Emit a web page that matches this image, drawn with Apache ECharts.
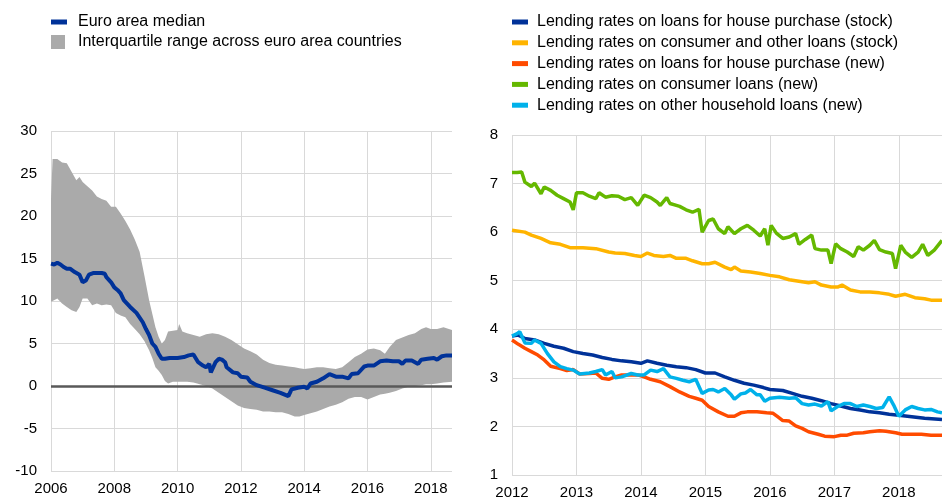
<!DOCTYPE html>
<html>
<head>
<meta charset="utf-8">
<script src="https://cdn.jsdelivr.net/npm/echarts@6/dist/echarts.min.js"></script>
<style>
html,body{margin:0;padding:0;background:#fff;}
#chart{width:942px;height:500px;}
</style>
</head>
<body>
<div id="chart"></div>
<script>
// ---------- Left panel data ----------
const leftTicks = [2006, 2008, 2010, 2012, 2014, 2016, 2018];
const medianName = 'Euro area median';
const bandName = 'Interquartile range across euro area countries';
const median = [[2006.0,14.4],[2006.1,14.3],[2006.2,14.5],[2006.3,14.3],[2006.4,14.0],[2006.5,13.8],[2006.6,13.8],[2006.75,13.4],[2006.9,13.1],[2007.0,12.2],[2007.1,12.4],[2007.2,13.1],[2007.35,13.3],[2007.5,13.3],[2007.6,13.3],[2007.7,13.2],[2007.75,12.8],[2007.9,12.2],[2008.0,11.6],[2008.1,11.3],[2008.2,10.9],[2008.3,10.1],[2008.5,9.3],[2008.7,8.6],[2008.9,7.5],[2009.0,6.7],[2009.1,6.0],[2009.2,5.0],[2009.3,4.6],[2009.4,3.8],[2009.5,3.2],[2009.6,3.2],[2009.75,3.3],[2010.0,3.3],[2010.2,3.4],[2010.35,3.6],[2010.5,3.7],[2010.55,3.5],[2010.65,2.8],[2010.8,2.4],[2010.9,2.2],[2011.0,2.6],[2011.05,1.6],[2011.1,2.0],[2011.2,2.8],[2011.3,3.2],[2011.4,3.1],[2011.5,2.8],[2011.55,2.2],[2011.6,2.0],[2011.75,1.6],[2011.9,1.5],[2012.0,1.1],[2012.2,1.0],[2012.3,0.5],[2012.5,0.1],[2012.75,-0.2],[2013.0,-0.5],[2013.25,-0.8],[2013.5,-1.2],[2013.6,-0.4],[2013.8,-0.2],[2014.0,-0.1],[2014.1,-0.3],[2014.2,0.3],[2014.4,0.5],[2014.6,0.9],[2014.8,1.4],[2015.0,1.1],[2015.2,1.1],[2015.4,0.9],[2015.5,1.4],[2015.7,1.5],[2015.9,2.3],[2016.0,2.4],[2016.2,2.4],[2016.4,2.9],[2016.6,3.0],[2016.8,2.9],[2017.0,2.9],[2017.1,2.6],[2017.2,3.0],[2017.4,3.0],[2017.6,2.6],[2017.7,3.1],[2017.9,3.2],[2018.1,3.3],[2018.2,3.1],[2018.35,3.5],[2018.5,3.6],[2018.67,3.6]];
const bandYears = [2006.0,2006.05,2006.2,2006.35,2006.5,2006.65,2006.8,2006.9,2007.0,2007.15,2007.3,2007.45,2007.6,2007.75,2007.9,2008.05,2008.2,2008.35,2008.5,2008.65,2008.8,2008.95,2009.1,2009.2,2009.3,2009.4,2009.5,2009.6,2009.7,2009.85,2010.0,2010.05,2010.15,2010.3,2010.5,2010.7,2010.9,2011.1,2011.3,2011.5,2011.7,2011.9,2012.1,2012.3,2012.5,2012.7,2012.9,2013.1,2013.3,2013.5,2013.7,2013.85,2014.0,2014.2,2014.4,2014.6,2014.8,2015.0,2015.2,2015.4,2015.6,2015.8,2016.0,2016.2,2016.4,2016.55,2016.7,2016.9,2017.1,2017.3,2017.5,2017.7,2017.85,2018.0,2018.2,2018.4,2018.67];
const bandUpper = [22,26.7,26.7,26.3,26.2,25.2,24.2,24.6,24.0,23.5,23.0,22.3,22.0,21.8,21.1,21.1,20.3,19.4,18.4,17.2,15.8,13.0,10.1,8.5,6.9,5.8,5.0,5.4,6.4,6.5,6.6,7.3,6.4,6.2,6.0,5.8,6.1,6.2,6.1,5.8,5.4,4.9,4.4,4.1,3.7,3.1,2.7,2.5,2.4,2.3,2.2,2.1,2.0,2.1,2.2,2.2,2.1,2.0,2.2,2.8,3.4,3.8,4.3,4.4,4.2,3.8,4.6,5.4,5.7,6.0,6.2,6.7,6.9,6.7,6.7,6.9,6.6];
const bandLower = [9.9,10.0,10.3,9.7,9.3,8.9,8.7,9.3,10.3,10.3,9.5,9.7,9.5,9.6,9.5,8.6,8.3,8.1,7.3,6.7,6.1,5.3,4.2,3.3,2.2,1.8,1.3,0.6,0.3,0.5,0.5,0.5,0.5,0.5,0.4,0.2,0.0,-0.3,-0.8,-1.3,-1.8,-2.3,-2.6,-2.7,-2.8,-3.0,-3.0,-3.1,-3.1,-3.3,-3.6,-3.6,-3.4,-3.2,-3.0,-2.7,-2.4,-2.2,-1.9,-1.5,-1.3,-1.3,-1.6,-1.3,-1.0,-0.9,-0.8,-0.6,-0.3,-0.1,0.0,0.1,0.2,0.2,0.3,0.4,0.5];

// ---------- Right panel data ----------
const rightTicks = [2012, 2013, 2014, 2015, 2016, 2017, 2018];
const rightNames = [
  'Lending rates on loans for house purchase (stock)',
  'Lending rates on consumer and other loans (stock)',
  'Lending rates on loans for house purchase (new)',
  'Lending rates on consumer loans (new)',
  'Lending rates on other household loans (new)'
];
const houseStock = [[2012.0,3.86],[2012.1,3.88],[2012.2,3.81],[2012.35,3.78],[2012.5,3.71],[2012.65,3.65],[2012.8,3.61],[2012.95,3.54],[2013.1,3.50],[2013.25,3.47],[2013.4,3.42],[2013.55,3.38],[2013.7,3.35],[2013.85,3.33],[2014.0,3.30],[2014.1,3.35],[2014.25,3.30],[2014.4,3.26],[2014.55,3.23],[2014.7,3.21],[2014.85,3.17],[2015.0,3.10],[2015.15,3.10],[2015.3,3.02],[2015.45,2.95],[2015.6,2.89],[2015.75,2.85],[2015.9,2.80],[2016.0,2.76],[2016.2,2.74],[2016.35,2.68],[2016.5,2.62],[2016.65,2.58],[2016.8,2.53],[2016.95,2.47],[2017.1,2.42],[2017.25,2.37],[2017.4,2.34],[2017.55,2.30],[2017.7,2.28],[2017.85,2.25],[2018.0,2.23],[2018.2,2.20],[2018.4,2.17],[2018.67,2.14]];
const consumerStock = [[2012.0,6.04],[2012.2,6.00],[2012.3,5.94],[2012.45,5.87],[2012.6,5.78],[2012.75,5.75],[2012.9,5.68],[2013.1,5.68],[2013.3,5.66],[2013.5,5.59],[2013.6,5.57],[2013.75,5.56],[2013.9,5.52],[2014.0,5.50],[2014.1,5.57],[2014.2,5.52],[2014.35,5.50],[2014.45,5.52],[2014.55,5.46],[2014.7,5.46],[2014.8,5.41],[2014.95,5.35],[2015.05,5.35],[2015.15,5.38],[2015.3,5.28],[2015.4,5.23],[2015.45,5.28],[2015.55,5.20],[2015.7,5.18],[2015.85,5.15],[2016.0,5.11],[2016.15,5.08],[2016.3,5.02],[2016.45,4.99],[2016.6,4.96],[2016.7,4.98],[2016.8,4.91],[2016.95,4.87],[2017.05,4.87],[2017.12,4.91],[2017.25,4.81],[2017.4,4.77],[2017.55,4.77],[2017.7,4.75],[2017.85,4.72],[2017.95,4.68],[2018.1,4.72],[2018.25,4.65],[2018.4,4.63],[2018.5,4.60],[2018.67,4.60]];
const houseNew = [[2012.0,3.78],[2012.1,3.69],[2012.2,3.61],[2012.3,3.54],[2012.4,3.47],[2012.5,3.37],[2012.6,3.24],[2012.75,3.19],[2012.85,3.15],[2012.95,3.17],[2013.05,3.08],[2013.2,3.09],[2013.3,3.10],[2013.4,2.99],[2013.5,2.97],[2013.6,3.02],[2013.7,3.06],[2013.8,3.06],[2013.95,3.06],[2014.05,3.02],[2014.15,2.97],[2014.3,2.92],[2014.45,2.82],[2014.6,2.71],[2014.75,2.62],[2014.85,2.58],[2014.95,2.54],[2015.05,2.41],[2015.2,2.30],[2015.35,2.21],[2015.45,2.21],[2015.55,2.28],[2015.65,2.30],[2015.8,2.30],[2015.95,2.28],[2016.05,2.27],[2016.12,2.20],[2016.2,2.12],[2016.3,2.11],[2016.4,2.01],[2016.5,1.96],[2016.6,1.89],[2016.75,1.84],[2016.85,1.80],[2017.0,1.79],[2017.1,1.82],[2017.2,1.82],[2017.3,1.86],[2017.45,1.87],[2017.55,1.89],[2017.7,1.91],[2017.8,1.90],[2017.95,1.87],[2018.05,1.84],[2018.2,1.84],[2018.35,1.84],[2018.5,1.82],[2018.67,1.82]];
const consumerNew = [[2012.0,7.23],[2012.08,7.23],[2012.15,7.24],[2012.2,7.03],[2012.3,6.94],[2012.35,7.01],[2012.45,6.79],[2012.5,6.93],[2012.6,6.86],[2012.7,6.76],[2012.8,6.69],[2012.9,6.62],[2012.95,6.46],[2013.0,6.81],[2013.1,6.81],[2013.2,6.74],[2013.3,6.69],[2013.35,6.81],[2013.45,6.72],[2013.55,6.75],[2013.65,6.74],[2013.75,6.67],[2013.85,6.71],[2013.95,6.55],[2014.05,6.76],[2014.15,6.71],[2014.25,6.62],[2014.3,6.55],[2014.4,6.71],[2014.45,6.59],[2014.55,6.55],[2014.6,6.53],[2014.7,6.46],[2014.8,6.41],[2014.9,6.47],[2014.95,6.00],[2015.05,6.24],[2015.12,6.27],[2015.2,6.07],[2015.3,5.97],[2015.35,6.11],[2015.45,5.97],[2015.55,6.07],[2015.65,6.14],[2015.75,6.04],[2015.85,5.92],[2015.92,6.07],[2015.97,5.73],[2016.02,6.14],[2016.1,5.98],[2016.2,5.87],[2016.3,5.90],[2016.4,5.97],[2016.45,5.75],[2016.55,5.85],[2016.65,5.94],[2016.7,5.66],[2016.8,5.63],[2016.9,5.63],[2016.95,5.35],[2017.02,5.76],[2017.1,5.66],[2017.2,5.59],[2017.3,5.50],[2017.37,5.70],[2017.45,5.63],[2017.55,5.73],[2017.62,5.83],[2017.7,5.64],[2017.8,5.59],[2017.9,5.56],[2017.95,5.25],[2018.03,5.73],[2018.1,5.59],[2018.2,5.48],[2018.3,5.59],[2018.37,5.75],[2018.45,5.52],[2018.55,5.63],[2018.67,5.83]];
const otherNew = [[2012.0,3.86],[2012.08,3.91],[2012.12,3.95],[2012.2,3.72],[2012.3,3.71],[2012.35,3.78],[2012.45,3.71],[2012.55,3.50],[2012.65,3.33],[2012.75,3.23],[2012.85,3.19],[2012.95,3.16],[2013.05,3.08],[2013.2,3.10],[2013.3,3.13],[2013.4,3.17],[2013.45,3.06],[2013.55,3.13],[2013.6,3.00],[2013.7,3.02],[2013.85,3.09],[2013.95,3.06],[2014.05,3.06],[2014.15,3.16],[2014.25,3.13],[2014.35,3.19],[2014.45,3.02],[2014.55,2.99],[2014.65,2.95],[2014.75,2.92],[2014.85,2.97],[2014.95,2.68],[2015.05,2.75],[2015.12,2.76],[2015.2,2.71],[2015.3,2.78],[2015.4,2.65],[2015.45,2.56],[2015.55,2.67],[2015.62,2.69],[2015.7,2.76],[2015.8,2.65],[2015.85,2.65],[2015.92,2.52],[2016.0,2.58],[2016.15,2.60],[2016.3,2.58],[2016.4,2.59],[2016.5,2.47],[2016.6,2.44],[2016.7,2.46],[2016.8,2.42],[2016.9,2.51],[2016.95,2.32],[2017.05,2.41],[2017.15,2.47],[2017.25,2.47],[2017.35,2.41],[2017.45,2.44],[2017.55,2.41],[2017.65,2.37],[2017.75,2.39],[2017.85,2.61],[2017.92,2.44],[2018.0,2.21],[2018.1,2.34],[2018.2,2.41],[2018.3,2.37],[2018.4,2.34],[2018.5,2.35],[2018.6,2.30],[2018.67,2.28]];
const rightSeries = [houseStock, consumerStock, houseNew, consumerNew, otherNew];
const rightColors = ['#003299', '#ffb400', '#ff4b00', '#65b800', '#00b1ea'];

// ---------- Build chart ----------
const FONT = "'Liberation Sans', Arial, sans-serif";
const gridColor = '#d9d9d9';
const bandData = bandYears.map((y, i) => [y, bandLower[i], bandUpper[i]]);

function xAxisFor(gridIndex, min, max, interval, ticks) {
  return {
    type: 'value', gridIndex, min, max, interval,
    axisLine: { show: false }, axisTick: { show: false },
    splitLine: { show: true, showMaxLine: false, lineStyle: { color: gridColor, width: 1 } },
    axisLabel: {
      color: '#000', fontSize: 15, fontFamily: FONT, margin: 10,
      showMaxLabel: false,
      formatter: v => ticks.indexOf(v) >= 0 ? String(v) : ''
    }
  };
}
function yAxisFor(gridIndex, min, max, interval) {
  return {
    type: 'value', gridIndex, min, max, interval,
    axisLine: { show: false }, axisTick: { show: false },
    splitLine: { show: true, lineStyle: { color: gridColor, width: 1 } },
    axisLabel: { color: '#000', fontSize: 15, fontFamily: FONT, margin: 14 }
  };
}

const legendText = pad => ({ color: '#000', fontSize: 16, fontFamily: FONT, padding: [0, 0, 0, pad] });

const chart = echarts.init(document.getElementById('chart'), null, { renderer: 'canvas' });
const option = {
  animation: false,
  backgroundColor: '#fff',
  textStyle: { fontFamily: FONT },
  legend: [
    {
      data: [medianName], left: 51, top: 14, orient: 'vertical', padding: 0,
      itemWidth: 16, itemHeight: 5, icon: 'rect', textStyle: legendText(6)
    },
    {
      data: [bandName], left: 51, top: 34, orient: 'vertical', padding: 0,
      itemWidth: 14, itemHeight: 14, icon: 'rect', textStyle: legendText(8)
    },
    {
      data: rightNames, left: 512, top: 14, orient: 'vertical', padding: 0,
      itemWidth: 16, itemHeight: 5, icon: 'rect', itemGap: 4.8, textStyle: legendText(4)
    }
  ],
  grid: [
    { left: 51, top: 131, width: 401, height: 340 },
    { left: 512, top: 135, width: 430, height: 340 }
  ],
  xAxis: [
    xAxisFor(0, 2006, 2018.67, 2, leftTicks),
    xAxisFor(1, 2012, 2018.67, 1, rightTicks)
  ],
  yAxis: [
    yAxisFor(0, -10, 30, 5),
    yAxisFor(1, 1, 8, 1)
  ],
  series: [
    {
      name: bandName, type: 'custom', xAxisIndex: 0, yAxisIndex: 0,
      data: bandData, encode: { x: 0, y: [1, 2] },
      itemStyle: { color: '#aaaaaa' }, silent: true, clip: true, z: 2,
      renderItem: function (params, api) {
        if (params.dataIndex !== 0) return null;
        const pts = [];
        for (let i = 0; i < bandData.length; i++) pts.push(api.coord([bandData[i][0], bandData[i][2]]));
        for (let i = bandData.length - 1; i >= 0; i--) pts.push(api.coord([bandData[i][0], bandData[i][1]]));
        return { type: 'polygon', shape: { points: pts }, style: { fill: '#aaaaaa' } };
      },
      markLine: {
        silent: true, symbol: 'none',
        label: { show: false },
        lineStyle: { color: '#595959', width: 2.5, type: 'solid' },
        data: [{ yAxis: 0 }]
      }
    },
    {
      name: medianName, type: 'line', xAxisIndex: 0, yAxisIndex: 0,
      data: median, showSymbol: false, symbol: 'none',
      lineStyle: { color: '#003299', width: 4 },
      itemStyle: { color: '#003299' }, z: 10
    }
  ].concat(rightSeries.map((d, i) => ({
    name: rightNames[i], type: 'line', xAxisIndex: 1, yAxisIndex: 1,
    data: d, showSymbol: false, symbol: 'none',
    lineStyle: { color: rightColors[i], width: 3.5 },
    itemStyle: { color: rightColors[i] }, z: 5 + i
  })))
};
chart.setOption(option);
</script>
</body>
</html>
